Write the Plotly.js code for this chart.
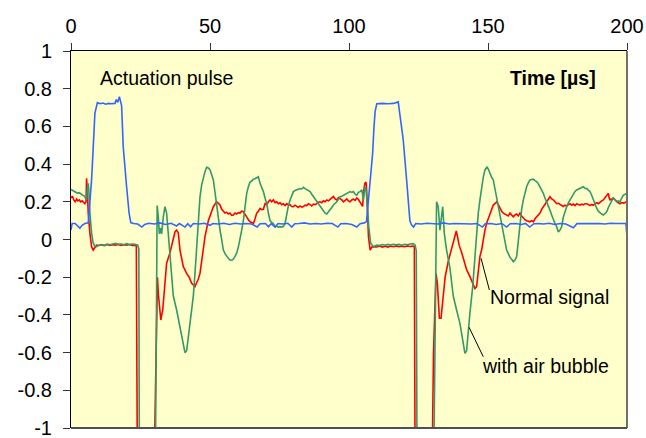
<!DOCTYPE html>
<html>
<head>
<meta charset="utf-8">
<script src="https://cdn.plot.ly/plotly-3.0.1.min.js"></script>
<style>html,body{margin:0;padding:0;background:#fff;}#chart{width:646px;height:438px;}</style>
</head>
<body>
<div id="chart"></div>
<script>
// Actuation pulse (blue)
const blueX = [0,0.4,1.5,2.5,3.2,4,5,6.2,7.4,8.0,8.6,9.5,10.5,11.5,12.5,13.5,14.5,15.8,16.3,16.8,17.4,18.2,18.8,20,20.9,21.5,22.5,24,25.5,26.5,28,30,32,34,36,38,39,41,42,43,44,46,48,50,51,53,55,57,59,61,63,65,67,68,70,71,72,73.4,74.5,76,78,79.4,80.5,82,84,86,88,90,92,94,96,97,99,101,102.8,104,105.5,106.3,107.6,108.5,109,109.4,110,112,114,116,117.7,118.3,119.5,120.7,121.9,122.4,123.2,124,126,128,130,132,134,136,138,140,142,144,146,148,149,151,153,155,156.7,158,160,162,163.5,165,166.5,168,170,172,174,176,178,180.7,182,184,186,188,190,192,194,196,198,199.6,200];
const blueY = [0.05,0.085,0.085,0.07,0.06,0.075,0.085,0.088,0.316,0.49,0.67,0.726,0.72,0.724,0.718,0.722,0.72,0.722,0.742,0.728,0.757,0.71,0.49,0.28,0.14,0.09,0.085,0.082,0.066,0.08,0.086,0.082,0.088,0.08,0.086,0.072,0.085,0.066,0.084,0.068,0.085,0.082,0.086,0.075,0.085,0.082,0.086,0.08,0.086,0.082,0.085,0.082,0.066,0.084,0.085,0.068,0.084,0.066,0.085,0.082,0.086,0.066,0.084,0.085,0.088,0.082,0.085,0.082,0.086,0.085,0.066,0.084,0.085,0.08,0.066,0.084,0.088,0.095,0.316,0.457,0.6,0.68,0.72,0.722,0.72,0.722,0.73,0.67,0.53,0.32,0.10,0.08,0.066,0.085,0.082,0.086,0.085,0.082,0.088,0.082,0.085,0.084,0.085,0.082,0.085,0.066,0.084,0.085,0.08,0.085,0.066,0.084,0.085,0.08,0.085,0.066,0.084,0.085,0.082,0.086,0.08,0.085,0.082,0.062,0.084,0.085,0.082,0.086,0.085,0.082,0.086,0.085,0.086,0.085,0.015];

// Normal signal (red)
const redX = [0,0.5,1,1.5,2,2.5,3,3.5,4,4.5,5,5.4,5.6,5.9,6.2,6.8,7.4,8,8.6,9.2,10,11,12,13,14,15,16,17,18,19,20,21,22,23,23.5,23.9,29.8,30.5,31.1,31.4,32.3,33,33.8,34.4,35.6,36.8,37.4,38,38.6,39.2,40.4,41.6,42.5,43.4,44.6,45.1,45.8,46.4,47,47.6,48.2,49.4,50.3,51.2,52.4,53,53.6,54.2,54.8,55.4,56,56.6,57.2,57.8,58.4,59,59.6,60.2,60.8,61.4,62,62.6,63.2,63.8,64.4,65,65.6,66.2,66.8,67.4,68,68.6,69.2,69.8,70.4,71,71.6,72.2,72.8,73.4,74,74.6,75.2,75.8,76.4,77,77.6,78.2,78.8,79.4,80,80.6,81.2,81.8,82.4,83,83.6,84.2,84.8,85.4,86,86.6,87.2,87.8,88.4,89,89.6,90.2,90.8,91.4,92,92.6,93.2,93.8,94.4,95,95.6,96.2,96.8,97.4,98,98.6,99.2,99.8,100.4,101,101.6,102.2,102.8,103.4,104,104.5,104.9,105.3,105.7,106.1,106.3,106.6,107,107.6,108.2,109,110,111,112,113,114,115,116,117,118,119,120,121,122,123,123.5,123.8,129.8,130.4,131.3,131.8,132.5,133.1,133.8,134.6,135.8,137,138.2,138.6,139.1,139.6,140.6,141.7,142.3,143.5,144.7,145.3,145.9,146.5,147.1,147.7,148.3,148.9,149.5,150.1,150.7,151.3,151.9,152.5,153.1,153.7,154.3,154.9,155.5,156.1,156.7,157.3,157.9,158.5,159.1,159.7,160.3,160.9,161.5,162.1,162.7,163.3,163.9,164.5,165.1,165.7,166.3,166.9,167.5,168.1,168.7,169.3,169.9,170.5,171.1,171.7,172.3,172.9,173.5,174.1,174.7,175.3,175.9,176.5,177.1,177.7,178.3,178.9,179.5,180.1,180.7,181.3,181.9,182.5,183.1,183.7,184.3,184.9,185.5,186.1,186.7,187.3,187.9,188.5,189.1,189.7,190.3,190.9,191.5,192.1,192.7,193.3,193.6,193.9,194.5,195.1,195.7,196.3,196.9,197.5,198.1,198.7,199.3,200];
const redY = [0.22,0.23,0.21,0.2,0.215,0.205,0.21,0.2,0.205,0.195,0.19,0.2,0.325,0.25,0.14,0.034,-0.038,-0.056,-0.045,-0.03,-0.032,-0.028,-0.033,-0.027,-0.032,-0.028,-0.03,-0.026,-0.032,-0.028,-0.03,-0.027,-0.031,-0.03,-0.035,-1.3,-1.3,-0.6,-0.2,-0.285,-0.427,-0.374,-0.215,-0.126,-0.07,0.015,0.04,0.05,0.035,-0.056,-0.144,-0.18,-0.2,-0.232,-0.25,-0.232,-0.21,-0.18,-0.11,-0.04,0.015,0.1,0.14,0.174,0.2,0.19,0.183,0.16,0.147,0.14,0.145,0.135,0.14,0.128,0.13,0.14,0.135,0.142,0.14,0.15,0.147,0.13,0.12,0.105,0.094,0.09,0.085,0.11,0.14,0.15,0.165,0.158,0.16,0.19,0.185,0.2,0.21,0.2,0.21,0.195,0.2,0.19,0.195,0.185,0.19,0.18,0.19,0.182,0.185,0.175,0.174,0.182,0.178,0.17,0.178,0.172,0.175,0.182,0.18,0.19,0.185,0.178,0.188,0.185,0.19,0.198,0.2,0.195,0.205,0.2,0.21,0.205,0.213,0.22,0.228,0.215,0.21,0.222,0.218,0.21,0.2,0.208,0.215,0.205,0.2,0.21,0.214,0.208,0.22,0.212,0.2,0.19,0.176,0.26,0.298,0.305,0.28,0.174,0.015,-0.056,-0.04,-0.038,-0.04,-0.035,-0.04,-0.036,-0.04,-0.035,-0.038,-0.034,-0.038,-0.035,-0.038,-0.034,-0.037,-0.035,-0.038,-1.3,-1.3,-0.6,-0.18,-0.232,-0.418,-0.418,-0.3,-0.197,-0.11,-0.038,0.024,0.045,0.01,-0.03,-0.073,-0.126,-0.16,-0.197,-0.24,-0.26,-0.25,-0.18,-0.09,-0.056,0.0,0.05,0.086,0.11,0.14,0.165,0.183,0.19,0.2,0.185,0.165,0.15,0.14,0.135,0.13,0.125,0.14,0.128,0.12,0.13,0.135,0.125,0.14,0.125,0.112,0.105,0.1,0.098,0.094,0.1,0.094,0.11,0.12,0.13,0.14,0.16,0.174,0.19,0.2,0.215,0.227,0.215,0.21,0.2,0.19,0.192,0.185,0.18,0.175,0.182,0.178,0.185,0.19,0.182,0.188,0.18,0.19,0.185,0.182,0.188,0.184,0.19,0.19,0.185,0.18,0.186,0.182,0.19,0.195,0.19,0.2,0.205,0.21,0.22,0.236,0.245,0.22,0.21,0.215,0.22,0.21,0.2,0.195,0.19,0.196,0.193,0.198,0.2];

// With air bubble (green)
const greenX = [0,0.6,1.2,1.8,2.4,3,3.6,4.2,4.8,5.3,5.6,5.9,6.2,6.5,6.8,7.4,8,8.6,9.2,10,11,12,13,14,15,16,17,18,19,20,21,22,23,24,24.4,24.6,30.3,31,31.4,31.8,32.2,32.6,33.2,33.8,34.4,35,35.6,36.2,36.8,38,39.2,40.2,41,41.6,42.2,43,44,44.6,45.2,45.8,46.4,47,47.6,48.2,48.8,49.4,50,50.6,51.2,51.8,52.4,53,53.6,54.2,54.8,55.4,56,56.6,57.2,57.8,58.4,59,59.6,60.2,60.8,61.4,62,62.6,63.2,63.8,64.4,65,65.6,66.2,66.8,67.4,68,68.6,69.2,69.8,70.4,71,71.6,72.2,72.8,73.4,74,74.6,75.2,75.8,76.4,77,77.6,78.2,78.8,79.4,80,80.6,81.2,81.8,82.4,83,83.6,84.2,84.8,85.4,86,86.6,87.2,87.8,88.4,89,89.6,90.2,90.8,91.4,92,92.6,93.2,93.8,94.4,95,95.6,96.2,96.8,97.4,98,98.6,99.2,99.8,100.4,101,101.6,102.2,102.8,103.4,104,104.6,105.2,105.7,106.1,106.6,107.1,107.8,108.8,110,111,112,113,114,115,116,117,118,119,120,121,122,123,123.8,124.2,124.5,130.4,131.5,132.1,132.7,133.3,133.7,134.3,135.1,136.3,137.5,138.7,139.9,140.9,141.7,142.3,142.9,143.5,144.5,145.1,145.7,146.5,147.1,147.7,148.3,148.9,149.7,150.2,150.7,151.3,151.9,152.5,153.1,153.7,154.3,154.9,155.5,156.1,156.7,157.3,157.9,158.5,159.1,159.7,160.3,160.6,161.1,161.5,162.1,162.7,163.3,163.9,164.5,165.1,165.7,166.3,166.9,167.5,168.1,168.7,169.3,169.9,170.5,171.1,171.7,172.3,172.9,173.5,174.1,174.7,175.3,175.9,176.5,177.1,177.7,178.3,178.9,179.5,180.1,180.7,181.3,181.9,182.5,183.1,183.7,184.3,184.9,185.5,186.1,186.7,187.3,187.9,188.5,189.1,189.7,190.3,190.9,191.5,192.1,192.7,193.3,193.9,194.5,195.1,195.7,196.3,196.9,197.5,198.1,198.7,199.3,200];
const greenY = [0.265,0.26,0.255,0.25,0.245,0.248,0.24,0.235,0.23,0.22,0.21,0.27,0.298,0.24,0.14,0.034,-0.02,-0.035,-0.038,-0.03,-0.027,-0.03,-0.024,-0.028,-0.025,-0.02,-0.026,-0.024,-0.028,-0.022,-0.027,-0.024,-0.026,-0.03,-0.05,-1.3,-1.3,0.18,0.12,0.03,0.06,0.03,0.12,0.174,0.14,0.03,-0.09,-0.2,-0.3,-0.374,-0.46,-0.55,-0.6,-0.59,-0.515,-0.427,-0.3,-0.18,-0.056,0.05,0.227,0.29,0.333,0.36,0.383,0.38,0.37,0.34,0.316,0.25,0.174,0.11,0.05,0.0,-0.056,-0.075,-0.09,-0.1,-0.109,-0.11,-0.105,-0.09,-0.073,-0.04,-0.003,0.05,0.1,0.18,0.245,0.28,0.305,0.31,0.32,0.322,0.328,0.333,0.298,0.275,0.254,0.22,0.19,0.14,0.1,0.09,0.085,0.068,0.07,0.066,0.068,0.065,0.07,0.085,0.14,0.18,0.21,0.235,0.254,0.26,0.263,0.265,0.27,0.268,0.277,0.27,0.263,0.26,0.254,0.24,0.227,0.215,0.2,0.188,0.174,0.16,0.147,0.14,0.135,0.145,0.156,0.17,0.183,0.19,0.2,0.215,0.227,0.23,0.235,0.24,0.245,0.25,0.254,0.25,0.254,0.24,0.235,0.25,0.254,0.263,0.21,0.28,0.27,0.174,0.068,-0.02,-0.038,-0.03,-0.032,-0.027,-0.03,-0.026,-0.029,-0.025,-0.028,-0.026,-0.03,-0.025,-0.028,-0.024,-0.022,-0.03,-0.06,-1.3,-1.3,0.2,0.174,0.05,0.14,0.174,0.03,-0.056,-0.15,-0.3,-0.374,-0.445,-0.533,-0.604,-0.59,-0.48,-0.39,-0.25,-0.126,-0.003,0.14,0.21,0.28,0.33,0.369,0.386,0.37,0.35,0.33,0.316,0.27,0.227,0.18,0.14,0.085,0.03,-0.01,-0.056,-0.075,-0.095,-0.105,-0.118,-0.109,-0.09,-0.05,0.02,0.1,0.16,0.21,0.25,0.28,0.3,0.316,0.318,0.32,0.312,0.307,0.295,0.28,0.262,0.245,0.22,0.2,0.178,0.156,0.13,0.103,0.085,0.068,0.04,0.05,0.068,0.12,0.15,0.174,0.195,0.21,0.23,0.245,0.255,0.263,0.268,0.27,0.274,0.28,0.272,0.27,0.262,0.254,0.235,0.21,0.185,0.165,0.15,0.14,0.135,0.13,0.138,0.147,0.17,0.19,0.205,0.22,0.21,0.2,0.205,0.2,0.22,0.236,0.24,0.245];

const xTickVals = [0,50,100,150,200];
const xTickText = ["0","50","100","150","200"];
const yTickVals = [-1,-0.8,-0.6,-0.4,-0.2,0,0.2,0.4,0.6,0.8,1];
const yTickText = ["-1","-0.8","-0.6","-0.4","-0.2","0","0.2","0.4","0.6","0.8","1"];

const FONT = "Liberation Sans, Arial, sans-serif";

const traces = [
  {x: redX, y: redY, mode: "lines", line: {color: "#FF0000", width: 1.6}, name: "Normal signal"},
  {x: greenX, y: greenY, mode: "lines", line: {color: "#339966", width: 1.6}, name: "with air bubble"},
  {x: blueX, y: blueY, mode: "lines", line: {color: "#3366FF", width: 1.6}, name: "Actuation pulse"}
];

const layout = {
  width: 646, height: 438,
  margin: {l: 71, r: 19, t: 51, b: 10, pad: 0},
  paper_bgcolor: "#FFFFFF",
  plot_bgcolor: "#FFFFCC",
  showlegend: false,
  font: {family: FONT, size: 19.5, color: "#000"},
  xaxis: {
    side: "top", range: [0, 200], tickvals: xTickVals, ticktext: xTickText,
    showgrid: false, zeroline: false, showline: true, linecolor: "#000", linewidth: 1,
    ticks: "outside", ticklen: 7, tickcolor: "#333", tickwidth: 1, ticklabelstandoff: 2,
    ticklabeloverflow: "allow",
    tickfont: {family: FONT, size: 20, color: "#000"}, fixedrange: true
  },
  yaxis: {
    range: [-1, 1], tickvals: yTickVals, ticktext: yTickText,
    showgrid: false, zeroline: false, showline: true, linecolor: "#000", linewidth: 1,
    ticks: "outside", ticklen: 7, tickcolor: "#333", tickwidth: 1, ticklabelstandoff: 7,
    ticklabeloverflow: "allow",
    tickfont: {family: FONT, size: 20, color: "#000"}, fixedrange: true
  },
  shapes: [
    {type: "line", xref: "paper", yref: "paper", x0: 1, x1: 1, y0: 0, y1: 1, line: {color: "#707070", width: 2}},
    {type: "line", xref: "paper", yref: "paper", x0: 0, x1: 1, y0: 0, y1: 0, line: {color: "#505050", width: 2}},
    {type: "line", xref: "x", yref: "y", x0: 147.5, y0: -0.1, x1: 150.5, y1: -0.268, line: {color: "#000", width: 1}},
    {type: "line", xref: "x", yref: "y", x0: 143.2, y0: -0.466, x1: 148.3, y1: -0.622, line: {color: "#000", width: 1}}
  ],
  annotations: [
    {x: 9.7, y: 0.857, xref: "x", yref: "y", text: "Actuation pulse", showarrow: false, xanchor: "left", yanchor: "middle", font: {family: FONT, size: 19.5, color: "#000"}},
    {x: 189.6, y: 0.857, xref: "x", yref: "y", text: "<b>Time [µs]</b>", showarrow: false, xanchor: "right", yanchor: "middle", font: {family: FONT, size: 19.5, color: "#000"}},
    {x: 150, y: -0.305, xref: "x", yref: "y", text: "Normal signal", showarrow: false, xanchor: "left", yanchor: "middle", font: {family: FONT, size: 19.5, color: "#000"}},
    {x: 147.1, y: -0.671, xref: "x", yref: "y", text: "with air bubble", showarrow: false, xanchor: "left", yanchor: "middle", font: {family: FONT, size: 19.5, color: "#000"}}
  ]
};

Plotly.newPlot("chart", traces, layout, {staticPlot: true, displayModeBar: false});
</script>
</body>
</html>
